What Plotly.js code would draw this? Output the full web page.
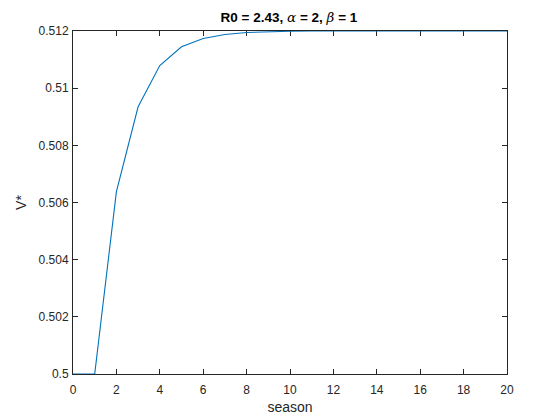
<!DOCTYPE html>
<html>
<head>
<meta charset="utf-8">
<script src="https://cdn.plot.ly/plotly-3.0.1.min.js"></script>
<style>
  body { margin: 0; background: #fff; }
  #plot { width: 560px; height: 420px; }
</style>
</head>
<body>
<div id="plot"></div>
<script>
  // values
  const season = [0, 1, 2, 3, 4, 5, 6, 7, 8, 9, 10, 11, 12, 13, 14, 15, 16, 17, 18, 19, 20];
  const vStar = [0.5, 0.5, 0.50638, 0.50935, 0.51079, 0.51145, 0.51174, 0.51188, 0.51195, 0.51198,
    0.51199, 0.512, 0.512, 0.512, 0.512, 0.512, 0.512, 0.512, 0.512, 0.512, 0.512];
  const xTicks = [0, 2, 4, 6, 8, 10, 12, 14, 16, 18, 20];
  const yTicks = [0.5, 0.502, 0.504, 0.506, 0.508, 0.51, 0.512];
  const yLabels = ['0.5', '0.502', '0.504', '0.506', '0.508', '0.51', '0.512'];

  const FONT = 'Liberation Sans, Arial, sans-serif';
  const greek = s => '<span style="font-family:\'DejaVu Serif\',serif;font-weight:normal"><i>' + s + '</i></span>';

  const axisStyle = {
    showline: true,
    linecolor: '#262626',
    linewidth: 1,
    mirror: 'ticks',
    ticks: 'inside',
    ticklen: 5,
    tickcolor: '#262626',
    showgrid: false,
    zeroline: false,
    layer: 'below traces',
    tickfont: { family: FONT, size: 12, color: '#262626' }
  };

  const trace = {
    x: season,
    y: vStar,
    type: 'scatter',
    mode: 'lines',
    line: { color: '#0072BD', width: 1.1 },
    cliponaxis: false,
    hoverinfo: 'skip'
  };

  const layout = {
    width: 560,
    height: 420,
    margin: { l: 73, r: 53, t: 31, b: 46 },
    paper_bgcolor: '#fff',
    plot_bgcolor: '#fff',
    showlegend: false,
    title: {
      text: '<b>R0 = 2.43, ' + greek('α') + ' = 2, ' + greek('β') + ' = 1</b>',
      font: { family: FONT, size: 13.5, color: '#000' },
      x: 0.516,
      xanchor: 'center',
      y: 0.96,
      yanchor: 'middle'
    },
    xaxis: Object.assign({}, axisStyle, {
      range: [0, 20],
      tickvals: xTicks,
      ticklabelstandoff: 5,
      title: { text: 'season', standoff: 5, font: { family: FONT, size: 14, color: '#262626' } }
    }),
    yaxis: Object.assign({}, axisStyle, {
      range: [0.5, 0.512],
      tickvals: yTicks,
      ticktext: yLabels,
      ticklabelstandoff: 1,
      title: { text: 'V*', standoff: 8, font: { family: FONT, size: 14, color: '#262626' } }
    })
  };

  Plotly.newPlot('plot', [trace], layout, { staticPlot: true, displayModeBar: false });
</script>
</body>
</html>
